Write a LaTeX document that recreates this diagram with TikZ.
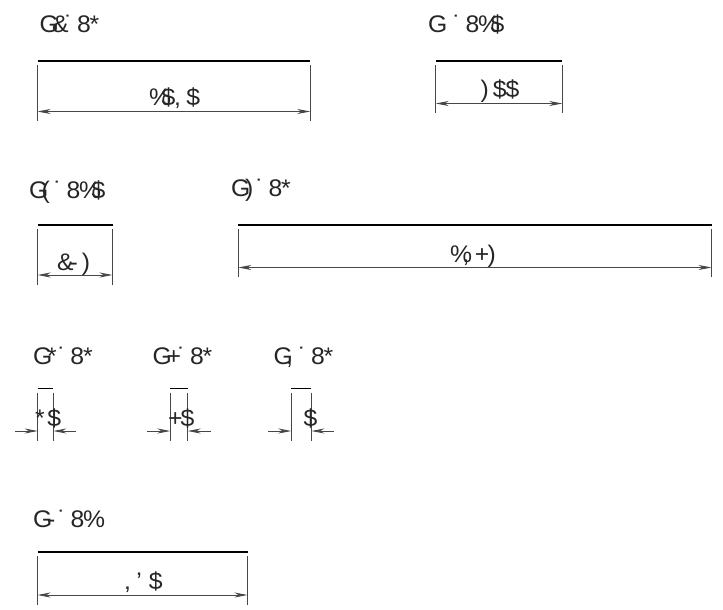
\documentclass[tikz,border=0pt]{standalone}
\usepackage{fontspec}
\setmainfont[FakeStretch=1.03]{Liberation Sans}
\usetikzlibrary{arrows.meta}
\newlength{\glyphadv}\setlength{\glyphadv}{12.5pt}
\newcommand{\gl}[1]{\makebox[\glyphadv][l]{#1}}
\newcommand{\gls}[1]{\makebox[\glyphadv][l]{\kern1.5pt #1}}
\newcommand{\gs}{\makebox[\glyphadv]{}}
\newcommand{\dott}{\gl{˙}}
\tikzset{
  x=1pt,y=-1pt,
  captxt/.style={font=\fontsize{24}{24}\selectfont,anchor=base west,inner sep=0pt,outer sep=0pt,text=black!85},
  dimtxt/.style={font=\fontsize{24}{24}\selectfont,anchor=base west,inner sep=0pt,outer sep=0pt,text=black!85},
  heavy/.style={draw=black,line width=1.8pt},
  ext/.style={draw=black!72,line width=0.9pt},
  dimln/.style={draw=black!72,line width=0.9pt,{Stealth[length=13pt,width=5pt,inset=4pt]}-{Stealth[length=13pt,width=5pt,inset=4pt]}},
  dimout/.style={draw=black!72,line width=0.9pt,-{Stealth[length=13pt,width=5pt,inset=4pt]}}
}
% name, x1, x2, ytop, ydim, yend
\newcommand{\barfig}[6]{
  \coordinate (#1a) at (#2,#4);
  \coordinate (#1b) at (#3,#4);
  \coordinate (#1c) at (#2,#4+4);
  \coordinate (#1d) at (#3,#4+4);
  \coordinate (#1e) at (#2,#6);
  \coordinate (#1f) at (#3,#6);
  \coordinate (#1g) at (#2,#5);
  \coordinate (#1h) at (#3,#5);
  \draw[heavy] (#1a) -- (#1b);
  \draw[ext] (#1c) -- (#1e);
  \draw[ext] (#1d) -- (#1f);
}
\begin{document}
\begin{tikzpicture}
\useasboundingbox (0,0) rectangle (723,610);
\fill[white] (0,0) rectangle (723,610);
\barfig{A}{37.5}{310.3}{61}{111.5}{121}
\draw[dimln] (Ag) -- (Ah);
\barfig{B}{435.7}{562.3}{61}{103.5}{113}
\draw[dimln] (Bg) -- (Bh);
\barfig{C}{37.7}{112.5}{225}{275}{285}
\draw[dimln] (Cg) -- (Ch);
\barfig{D}{238.3}{711.5}{225}{267.5}{277}
\draw[dimln] (Dg) -- (Dh);
\barfig{E}{37.7}{53.3}{388.5}{431}{441}
\coordinate (El) at (15,431); \coordinate (Er) at (76,431);
\draw[dimout] (El) -- (Eg); \draw[dimout] (Er) -- (Eh);
\barfig{F}{170.3}{187.7}{388.5}{431}{441}
\coordinate (Fl) at (147,431); \coordinate (Fr) at (211,431);
\draw[dimout] (Fl) -- (Fg); \draw[dimout] (Fr) -- (Fh);
\barfig{G}{291.3}{311.3}{388.5}{431}{441}
\coordinate (Gl) at (268,431); \coordinate (Gr) at (334,431);
\draw[dimout] (Gl) -- (Gg); \draw[dimout] (Gr) -- (Gh);
\barfig{H}{37.5}{247.5}{552}{595}{605}
\draw[dimln] (Hg) -- (Hh);
% captions
\node[captxt] (t1) at (39.5,32.5) {\gl{G}\gl{\&}\dott\gl{8}\gl{*}};
\node[captxt] (t2) at (428,32.5) {\gl{G}\gs\dott\gl{8}\gl{\%}\gl{\$}};
\node[captxt] (t3) at (29,198) {\gl{G}\gl{(}\dott\gl{8}\gl{\%}\gl{\$}};
\node[captxt] (t4) at (231,196) {\gl{G}\gls{)}\dott\gl{8}\gl{*}};
\node[captxt] (t5) at (33,364) {\gl{G}\gls{*}\dott\gl{8}\gl{*}};
\node[captxt] (t6) at (152.5,364) {\gl{G}\gls{+}\dott\gl{8}\gl{*}};
\node[captxt] (t7) at (273.5,364) {\gl{G}\gl{,}\dott\gl{8}\gl{*}};
\node[captxt] (t8) at (33,527) {\gl{G}\gls{-}\dott\gl{8}\gl{\%}};
% dimensions
\node[dimtxt] (d1) at (149,106) {\gl{\%}\gl{\$}\gl{,}\gl{\$}};
\node[dimtxt] (d2) at (480.5,98) {\gl{)}\gl{\$}\gl{\$}};
\node[dimtxt] (d3) at (57,270) {\gl{\&}\gl{-}\gl{)}};
\node[dimtxt] (d4) at (450,262) {\gl{\%}\gl{,}\gl{+}\gl{)}};
\node[dimtxt] (d5) at (35,426) {\gl{*}\gl{\$}};
\node[dimtxt] (d6) at (168,426) {\gl{+}\gl{\$}};
\node[dimtxt] (d7) at (291,426) {\gl{}\gl{\$}};
\node[dimtxt] (d8) at (124,589) {\gl{,}\gl{'}\gl{\$}};
\end{tikzpicture}
\end{document}
